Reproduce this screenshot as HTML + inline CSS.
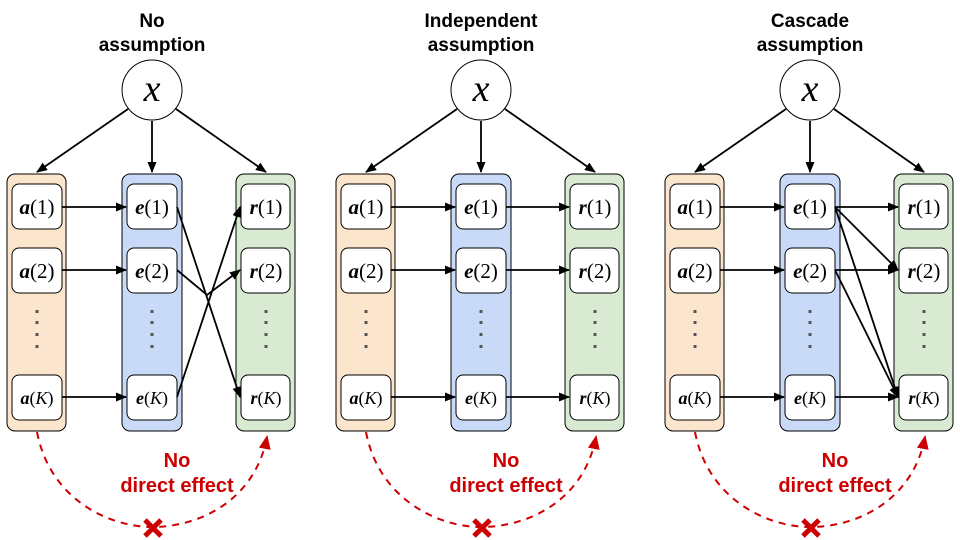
<!DOCTYPE html>
<html><head><meta charset="utf-8"><style>
html,body{margin:0;padding:0;background:#fff;}
svg{display:block;}
.t{font-family:"Liberation Sans",sans-serif;font-weight:bold;font-size:19px;text-anchor:middle;fill:#000;}
.r{font-family:"Liberation Sans",sans-serif;font-weight:bold;font-size:20px;text-anchor:middle;fill:#cc0000;}
.m{font-family:"Liberation Serif",serif;font-size:21px;text-anchor:middle;fill:#000;}
.b{font-weight:bold;font-style:italic;}
.i{font-style:italic;}
</style></head><body>
<svg width="960" height="540" viewBox="0 0 960 540" xmlns="http://www.w3.org/2000/svg">
<defs>
<marker id="ah" markerWidth="11" markerHeight="9" refX="10" refY="4.5" orient="auto" markerUnits="userSpaceOnUse"><path d="M0,0 L11,4.5 L0,9 Z" fill="#000"/></marker>
<marker id="rh" markerWidth="14" markerHeight="12" refX="12" refY="6" orient="auto" markerUnits="userSpaceOnUse"><path d="M0,0 L14,6 L0,12 Z" fill="#cc0000"/></marker>
<g id="base">
  <circle cx="152" cy="90" r="30" fill="#fff" stroke="#000" stroke-width="1"/>
  <text x="152" y="101" class="m i" style="font-size:38px">x</text>
  <g stroke="#000" stroke-width="1.8" fill="none">
    <line x1="128" y1="109" x2="37" y2="172" marker-end="url(#ah)"/>
    <line x1="152" y1="121" x2="152" y2="172" marker-end="url(#ah)"/>
    <line x1="176" y1="109" x2="266" y2="172" marker-end="url(#ah)"/>
  </g>
  <rect x="7" y="174" width="59" height="257" rx="8" fill="#fce5cd" stroke="#000"/>
  <rect x="122" y="174" width="60" height="257" rx="8" fill="#c9daf8" stroke="#000"/>
  <rect x="236" y="174" width="59" height="257" rx="8" fill="#d9ead3" stroke="#000"/>
  <g fill="#fff" stroke="#000">
    <rect x="12" y="184" width="50" height="45" rx="7"/><rect x="12" y="248" width="50" height="45" rx="7"/><rect x="12" y="375" width="50" height="45" rx="7"/>
    <rect x="127" y="184" width="50" height="45" rx="7"/><rect x="127" y="248" width="50" height="45" rx="7"/><rect x="127" y="375" width="50" height="45" rx="7"/>
    <rect x="241" y="184" width="49" height="45" rx="7"/><rect x="241" y="248" width="49" height="45" rx="7"/><rect x="241" y="375" width="49" height="45" rx="7"/>
  </g>
  <g fill="#555">
    <rect x="35.5" y="310" width="3" height="3"/><rect x="35.5" y="321" width="3" height="3"/><rect x="35.5" y="333" width="3" height="3"/><rect x="35.5" y="345" width="3" height="3"/>
    <rect x="150.5" y="310" width="3" height="3"/><rect x="150.5" y="321" width="3" height="3"/><rect x="150.5" y="333" width="3" height="3"/><rect x="150.5" y="345" width="3" height="3"/>
    <rect x="264.5" y="310" width="3" height="3"/><rect x="264.5" y="321" width="3" height="3"/><rect x="264.5" y="333" width="3" height="3"/><rect x="264.5" y="345" width="3" height="3"/>
  </g>
  <text x="37" y="214" class="m"><tspan class="b">a</tspan>(1)</text>
  <text x="37" y="278" class="m"><tspan class="b">a</tspan>(2)</text>
  <text x="37" y="404" class="m" style="font-size:18px"><tspan class="b">a</tspan>(<tspan class="i">K</tspan>)</text>
  <text x="152" y="214" class="m"><tspan class="b">e</tspan>(1)</text>
  <text x="152" y="278" class="m"><tspan class="b">e</tspan>(2)</text>
  <text x="152" y="404" class="m" style="font-size:18px"><tspan class="b">e</tspan>(<tspan class="i">K</tspan>)</text>
  <text x="266" y="214" class="m"><tspan class="b">r</tspan>(1)</text>
  <text x="266" y="278" class="m"><tspan class="b">r</tspan>(2)</text>
  <text x="266" y="404" class="m" style="font-size:18px"><tspan class="b">r</tspan>(<tspan class="i">K</tspan>)</text>
  <g stroke="#000" stroke-width="1.8" fill="none">
    <line x1="62" y1="207" x2="126" y2="207" marker-end="url(#ah)"/>
    <line x1="62" y1="270" x2="126" y2="270" marker-end="url(#ah)"/>
    <line x1="62" y1="397" x2="126" y2="397" marker-end="url(#ah)"/>
  </g>
  <path d="M37,432 C50,500 110,527 152,527 C200,527 255,500 267,437" fill="none" stroke="#cc0000" stroke-width="2" stroke-dasharray="7,6" marker-end="url(#rh)"/>
  <g stroke="#cc0000" stroke-width="5"><line x1="145" y1="520" x2="161" y2="536"/><line x1="161" y1="520" x2="145" y2="536"/></g>
  <text x="177" y="467" class="r">No</text>
  <text x="177" y="492" class="r">direct effect</text>
</g>
</defs>

<use href="#base"/>
<text x="152" y="27" class="t">No</text>
<text x="152" y="51" class="t">assumption</text>
<g stroke="#000" stroke-width="1.8" fill="none">
  <line x1="177" y1="207" x2="240" y2="397" marker-end="url(#ah)"/>
  <polyline points="177,270 207,295 240,270" marker-end="url(#ah)"/>
  <line x1="177" y1="397" x2="240" y2="207" marker-end="url(#ah)"/>
</g>

<g transform="translate(329,0)">
<use href="#base"/>
<text x="152" y="27" class="t">Independent</text>
<text x="152" y="51" class="t">assumption</text>
<g stroke="#000" stroke-width="1.8" fill="none">
  <line x1="177" y1="207" x2="240" y2="207" marker-end="url(#ah)"/>
  <line x1="177" y1="270" x2="240" y2="270" marker-end="url(#ah)"/>
  <line x1="177" y1="397" x2="240" y2="397" marker-end="url(#ah)"/>
</g>
</g>

<g transform="translate(658,0)">
<use href="#base"/>
<text x="152" y="27" class="t">Cascade</text>
<text x="152" y="51" class="t">assumption</text>
<g stroke="#000" stroke-width="1.8" fill="none">
  <line x1="177" y1="207" x2="240" y2="207" marker-end="url(#ah)"/>
  <line x1="177" y1="207" x2="240" y2="270" marker-end="url(#ah)"/>
  <line x1="177" y1="207" x2="240" y2="397" marker-end="url(#ah)"/>
  <line x1="177" y1="270" x2="240" y2="270" marker-end="url(#ah)"/>
  <line x1="177" y1="270" x2="240" y2="397" marker-end="url(#ah)"/>
  <line x1="177" y1="397" x2="240" y2="397" marker-end="url(#ah)"/>
</g>
</g>
</svg>
</body></html>
